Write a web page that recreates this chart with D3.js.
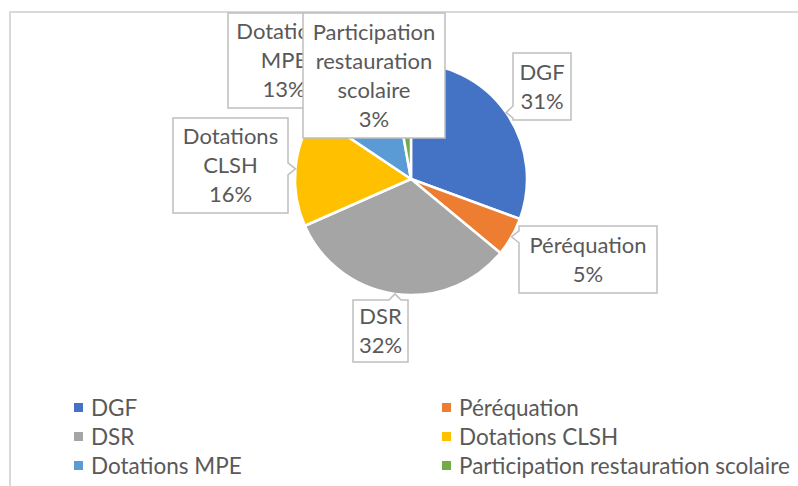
<!DOCTYPE html>
<html>
<meta charset="utf-8">
<style>
body { margin: 0; background: #fff; }
svg { font-family: Lato, "Open Sans", sans-serif; }
.lbl { fill: #595959; font-size: 22px; text-anchor: middle; }
.legend text { fill: #595959; font-size: 22.5px; }
.box { fill: #fff; stroke: #bfbfbf; stroke-width: 1.5px; }
</style>
<body>
<script src="https://cdn.jsdelivr.net/npm/d3@7"></script>
<script>

// data
var categories = ["DGF", "Péréquation", "DSR", "Dotations CLSH", "Dotations MPE", "Participation restauration scolaire"];
var values = [30.6, 5.4, 32.4, 16.0, 12.8, 2.8];
var labelLines = [["DGF"], ["Péréquation"], ["DSR"], ["Dotations", "CLSH"], ["Dotations", "MPE"], ["Participation", "restauration", "scolaire"]];
var colors = ["#4472C4", "#ED7D31", "#A5A5A5", "#FFC000", "#5B9BD5", "#70AD47"];

// where each callout box sits (x, y, w, h), drawn in this order
var boxes = [
  [513, 53, 58, 67],
  [519, 226, 138, 67],
  [353, 300, 55, 62],
  [173, 118, 115, 95],
  [228, 13, 112, 95],
  [303, 13, 142, 125]
];

var width = 798, height = 486;
var cx = 411, cy = 179, r = 116;

var svg = d3.select("body").append("svg")
    .attr("width", width)
    .attr("height", height);

var defs = svg.append("defs");

// chart area border
svg.append("path")
    .attr("d", "M10," + (height + 5) + "V12H" + (width + 5))
    .attr("fill", "none")
    .attr("stroke", "#d9d9d9")
    .attr("stroke-width", 2);

var total = d3.sum(values);
var pie = d3.pie().sort(null).value(function(d) { return d; });
var arcs = pie(values);
var arc = d3.arc().innerRadius(0).outerRadius(r);

var g = svg.append("g").attr("transform", "translate(" + cx + "," + cy + ")");

g.selectAll(".slice")
  .data(arcs)
  .enter()
  .append("path")
  .attr("class", "slice")
  .attr("d", arc)
  .attr("fill", function(d, i) { return colors[i]; })
  .attr("stroke", "#fff")
  .attr("stroke-width", 2.5)
  .attr("stroke-linejoin", "round");

// callout path: box with a little pointer to (tx, ty)
function callout(b, tx, ty) {
  var x0 = b[0], y0 = b[1], x1 = b[0] + b[2], y1 = b[1] + b[3];
  var hw = 6;
  function clamp(v, a, c) { return Math.max(a + hw + 2, Math.min(c - hw - 2, v)); }
  var p;
  if (tx < x0) {
    var m = clamp(ty, y0, y1);
    p = [[x0, y0], [x1, y0], [x1, y1], [x0, y1], [x0, m + hw], [tx, ty], [x0, m - hw]];
  } else if (tx > x1) {
    var m2 = clamp(ty, y0, y1);
    p = [[x0, y0], [x1, y0], [x1, m2 - hw], [tx, ty], [x1, m2 + hw], [x1, y1], [x0, y1]];
  } else if (ty < y0) {
    var m3 = clamp(tx, x0, x1);
    p = [[x0, y0], [m3 - hw, y0], [tx, ty], [m3 + hw, y0], [x1, y0], [x1, y1], [x0, y1]];
  } else if (ty > y1) {
    var m4 = clamp(tx, x0, x1);
    p = [[x0, y0], [x1, y0], [x1, y1], [m4 + hw, y1], [tx, ty], [m4 - hw, y1], [x0, y1]];
  } else {
    p = [[x0, y0], [x1, y0], [x1, y1], [x0, y1]];
  }
  return "M" + p.map(function(q) { return q[0] + "," + q[1]; }).join("L") + "Z";
}

var labels = svg.append("g").attr("class", "labels");

arcs.forEach(function(d, i) {
  var b = boxes[i];
  var mid = (d.startAngle + d.endAngle) / 2;
  var tx = cx + r * Math.sin(mid), ty = cy - r * Math.cos(mid);
  var lg = labels.append("g");
  lg.append("path").attr("class", "box").attr("d", callout(b, tx, ty));

  // the next box covers this one: clip its text where they meet
  var tg = lg.append("g");
  var next = boxes[i + 1];
  if (next && next[0] > b[0] && next[0] < b[0] + b[2] && next[1] < b[1] + b[3] && next[1] + next[3] > b[1]) {
    defs.append("clipPath").attr("id", "clip" + i)
      .append("rect")
      .attr("x", b[0]).attr("y", b[1])
      .attr("width", next[0] - b[0]).attr("height", b[3]);
    tg.attr("clip-path", "url(#clip" + i + ")");
  }

  var lines = labelLines[i].concat([Math.round(values[i] / total * 100) + "%"]);
  var lh = 29;
  var top = b[1] + b[3] / 2 - (lines.length - 1) * lh / 2;
  lines.forEach(function(t, k) {
    tg.append("text")
      .attr("class", "lbl")
      .attr("x", b[0] + b[2] / 2)
      .attr("y", top + k * lh)
      .attr("dy", "0.35em")
      .text(t);
  });
});

// legend, two columns
var legX = d3.scalePoint().domain([0, 1]).range([74, 442]);
var legY = d3.scaleLinear().domain([0, 2]).range([408, 466]);

var leg = svg.append("g").attr("class", "legend")
  .selectAll("g")
  .data(categories)
  .enter()
  .append("g")
  .attr("transform", function(d, i) {
    return "translate(" + legX(i % 2) + "," + legY(Math.floor(i / 2)) + ")";
  });

leg.append("rect")
  .attr("x", 0)
  .attr("y", -5)
  .attr("width", 9)
  .attr("height", 9)
  .attr("fill", function(d, i) { return colors[i]; });

leg.append("text")
  .attr("x", 17)
  .attr("y", 0)
  .attr("dy", "0.35em")
  .text(function(d) { return d; });

</script>
</body>
</html>
